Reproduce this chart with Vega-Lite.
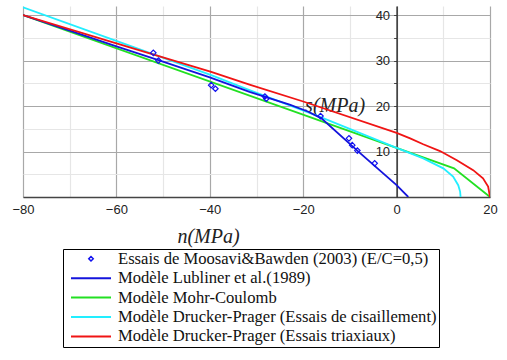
{
  "$schema": "https://vega.github.io/schema/vega-lite/v6.json",
  "autosize": "none",
  "width": 467,
  "height": 191,
  "padding": {"left": 23, "top": 6, "right": 17, "bottom": 163},
  "background": "white",
  "config": {"view": {"stroke": null}},
  "datasets": {
    "curves": [
      {"series": "Modèle Mohr-Coulomb", "n": -80, "s": 40},
      {"series": "Modèle Mohr-Coulomb", "n": 12.3, "s": 6.3},
      {"series": "Modèle Mohr-Coulomb", "n": 20, "s": 0},
      {"series": "Modèle Drucker-Prager (Essais de cisaillement)", "n": -80, "s": 41.7},
      {"series": "Modèle Drucker-Prager (Essais de cisaillement)", "n": -57.2, "s": 33.3},
      {"series": "Modèle Drucker-Prager (Essais de cisaillement)", "n": -39.7, "s": 26.8},
      {"series": "Modèle Drucker-Prager (Essais de cisaillement)", "n": -31.5, "s": 23.5},
      {"series": "Modèle Drucker-Prager (Essais de cisaillement)", "n": -16.4, "s": 17.6},
      {"series": "Modèle Drucker-Prager (Essais de cisaillement)", "n": 0, "s": 10.8},
      {"series": "Modèle Drucker-Prager (Essais de cisaillement)", "n": 5.7, "s": 8.5},
      {"series": "Modèle Drucker-Prager (Essais de cisaillement)", "n": 10, "s": 6.3},
      {"series": "Modèle Drucker-Prager (Essais de cisaillement)", "n": 12.1, "s": 4.5},
      {"series": "Modèle Drucker-Prager (Essais de cisaillement)", "n": 13.2, "s": 2.6},
      {"series": "Modèle Drucker-Prager (Essais de cisaillement)", "n": 13.6, "s": 1.2},
      {"series": "Modèle Drucker-Prager (Essais de cisaillement)", "n": 13.7, "s": 0},
      {"series": "Modèle Lubliner et al.(1989)", "n": -80, "s": 40},
      {"series": "Modèle Lubliner et al.(1989)", "n": -70, "s": 36.6},
      {"series": "Modèle Lubliner et al.(1989)", "n": -60, "s": 33.1},
      {"series": "Modèle Lubliner et al.(1989)", "n": -51, "s": 30.1},
      {"series": "Modèle Lubliner et al.(1989)", "n": -40, "s": 26.3},
      {"series": "Modèle Lubliner et al.(1989)", "n": -31.5, "s": 23.1},
      {"series": "Modèle Lubliner et al.(1989)", "n": -22.9, "s": 20.3},
      {"series": "Modèle Lubliner et al.(1989)", "n": -19, "s": 18.8},
      {"series": "Modèle Lubliner et al.(1989)", "n": -16.1, "s": 17.3},
      {"series": "Modèle Lubliner et al.(1989)", "n": -8, "s": 9.8},
      {"series": "Modèle Lubliner et al.(1989)", "n": 0, "s": 2.6},
      {"series": "Modèle Lubliner et al.(1989)", "n": 2.5, "s": 0},
      {"series": "Modèle Drucker-Prager (Essais triaxiaux)", "n": -80, "s": 40},
      {"series": "Modèle Drucker-Prager (Essais triaxiaux)", "n": -60, "s": 33.8},
      {"series": "Modèle Drucker-Prager (Essais triaxiaux)", "n": -39.7, "s": 27.5},
      {"series": "Modèle Drucker-Prager (Essais triaxiaux)", "n": -31.5, "s": 24.7},
      {"series": "Modèle Drucker-Prager (Essais triaxiaux)", "n": -20, "s": 21.0},
      {"series": "Modèle Drucker-Prager (Essais triaxiaux)", "n": 0, "s": 14.1},
      {"series": "Modèle Drucker-Prager (Essais triaxiaux)", "n": 2.9, "s": 12.9},
      {"series": "Modèle Drucker-Prager (Essais triaxiaux)", "n": 5.7, "s": 11.6},
      {"series": "Modèle Drucker-Prager (Essais triaxiaux)", "n": 9.3, "s": 10.1},
      {"series": "Modèle Drucker-Prager (Essais triaxiaux)", "n": 12.9, "s": 8.1},
      {"series": "Modèle Drucker-Prager (Essais triaxiaux)", "n": 16.4, "s": 5.9},
      {"series": "Modèle Drucker-Prager (Essais triaxiaux)", "n": 18.5, "s": 4.1},
      {"series": "Modèle Drucker-Prager (Essais triaxiaux)", "n": 19.6, "s": 2.3},
      {"series": "Modèle Drucker-Prager (Essais triaxiaux)", "n": 20, "s": 0}
    ],
    "tests": [
      {"series": "Essais de Moosavi&Bawden (2003) (E/C=0,5)", "n": -52.1, "s": 31.7},
      {"series": "Essais de Moosavi&Bawden (2003) (E/C=0,5)", "n": -51.0, "s": 30.0},
      {"series": "Essais de Moosavi&Bawden (2003) (E/C=0,5)", "n": -39.7, "s": 24.6},
      {"series": "Essais de Moosavi&Bawden (2003) (E/C=0,5)", "n": -38.8, "s": 23.8},
      {"series": "Essais de Moosavi&Bawden (2003) (E/C=0,5)", "n": -28.2, "s": 22.1},
      {"series": "Essais de Moosavi&Bawden (2003) (E/C=0,5)", "n": -27.9, "s": 21.6},
      {"series": "Essais de Moosavi&Bawden (2003) (E/C=0,5)", "n": -16.3, "s": 17.8},
      {"series": "Essais de Moosavi&Bawden (2003) (E/C=0,5)", "n": -10.2, "s": 12.9},
      {"series": "Essais de Moosavi&Bawden (2003) (E/C=0,5)", "n": -9.5, "s": 11.4},
      {"series": "Essais de Moosavi&Bawden (2003) (E/C=0,5)", "n": -8.4, "s": 10.2},
      {"series": "Essais de Moosavi&Bawden (2003) (E/C=0,5)", "n": -4.7, "s": 7.4}
    ]
  },
  "encoding": {
    "x": {
      "field": "n", "type": "quantitative",
      "scale": {"domain": [-80, 20], "nice": false, "zero": false},
      "axis": {
        "values": [-80, -70, -60, -50, -40, -30, -20, -10, 0, 10, 20],
        "labelExpr": "datum.value % 20 === 0 ? datum.label : ''",
        "grid": true,
        "gridColor": {"condition": {"test": "datum.value % 20 === 0", "value": "#a8a8a8"}, "value": "#e6e6e6"},
        "gridWidth": 1.2,
        "ticks": false,
        "domainColor": "#444444",
        "domainWidth": 1.5,
        "labelFont": "Liberation Sans",
        "labelFontSize": 13,
        "labelColor": "#222222",
        "labelPadding": 6,
        "labelFlush": false,
        "title": "n(MPa)",
        "titleFont": "Liberation Serif",
        "titleFontStyle": "italic",
        "titleFontWeight": "normal",
        "titleFontSize": 20,
        "titleColor": "#222222",
        "titleX": 185,
        "titleY": 39,
        "titleAlign": "center",
        "titleBaseline": "middle"
      }
    },
    "y": {
      "field": "s", "type": "quantitative",
      "scale": {"domain": [0, 42], "nice": false},
      "axis": {
        "orient": "left",
        "values": [0, 5, 10, 15, 20, 25, 30, 35, 40],
        "labelExpr": "datum.value % 10 === 0 && datum.value > 0 ? datum.label : ''",
        "grid": true,
        "gridColor": {"condition": {"test": "datum.value % 10 === 0", "value": "#a8a8a8"}, "value": "#e6e6e6"},
        "gridWidth": 1.2,
        "offset": -373.6,
        "tickSize": 3,
        "tickColor": "#444444",
        "domainColor": "#333333",
        "domainWidth": 1.5,
        "labelFont": "Liberation Sans",
        "labelFontSize": 13,
        "labelColor": "#222222",
        "labelPadding": 4,
        "labelFlush": false,
        "title": "s(MPa)",
        "titleFont": "Liberation Serif",
        "titleFontStyle": "italic",
        "titleFontWeight": "normal",
        "titleFontSize": 20,
        "titleColor": "#222222",
        "titleAngle": 0,
        "titleX": -62,
        "titleY": 99,
        "titleAlign": "center",
        "titleBaseline": "middle"
      }
    },
    "color": {
      "field": "series", "type": "nominal",
      "scale": {
        "domain": [
          "Essais de Moosavi&Bawden (2003) (E/C=0,5)",
          "Modèle Lubliner et al.(1989)",
          "Modèle Mohr-Coulomb",
          "Modèle Drucker-Prager (Essais de cisaillement)",
          "Modèle Drucker-Prager (Essais triaxiaux)"
        ],
        "range": ["#1010f0", "#1414dc", "#22e022", "#22eeff", "#f01414"]
      },
      "legend": {
        "title": null,
        "orient": "none",
        "legendX": 40,
        "legendY": 243,
        "direction": "vertical",
        "strokeColor": "#000000",
        "fillColor": "white",
        "padding": 1.5,
        "symbolOffset": 18.2,
        "symbolType": "M-4,0H4",
        "symbolSize": 100,
        "symbolStrokeWidth": 2,
        "rowPadding": 2.4,
        "labelOffset": 18.7,
        "labelFont": "Liberation Serif",
        "labelFontSize": 16.6,
        "labelColor": "#111111",
        "labelLimit": 500,
        "encode": {
          "symbols": {
            "update": {
              "shape": {"signal": "datum.value === 'Essais de Moosavi&Bawden (2003) (E/C=0,5)' ? 'diamond' : 'M-4,0H4'"},
              "size": {"signal": "datum.value === 'Essais de Moosavi&Bawden (2003) (E/C=0,5)' ? 20 : 100"},
              "strokeWidth": {"signal": "datum.value === 'Essais de Moosavi&Bawden (2003) (E/C=0,5)' ? 1.5 : 2"},
              "fill": {"value": "transparent"}
            }
          }
        }
      }
    }
  },
  "layer": [
    {
      "data": {"name": "curves"},
      "transform": [{"filter": "datum.series === 'Modèle Mohr-Coulomb'"}],
      "mark": {"type": "line", "strokeWidth": 1.8, "clip": true}
    },
    {
      "data": {"name": "curves"},
      "transform": [{"filter": "datum.series === 'Modèle Drucker-Prager (Essais de cisaillement)'"}],
      "mark": {"type": "line", "strokeWidth": 1.8, "clip": true}
    },
    {
      "data": {"name": "curves"},
      "transform": [{"filter": "datum.series === 'Modèle Lubliner et al.(1989)'"}],
      "mark": {"type": "line", "strokeWidth": 1.8, "clip": true}
    },
    {
      "data": {"name": "curves"},
      "transform": [{"filter": "datum.series === 'Modèle Drucker-Prager (Essais triaxiaux)'"}],
      "mark": {"type": "line", "strokeWidth": 1.8, "clip": true}
    },
    {
      "data": {"name": "tests"},
      "mark": {"type": "point", "shape": "diamond", "filled": false, "size": 30, "strokeWidth": 1.2, "opacity": 1}
    }
  ]
}
